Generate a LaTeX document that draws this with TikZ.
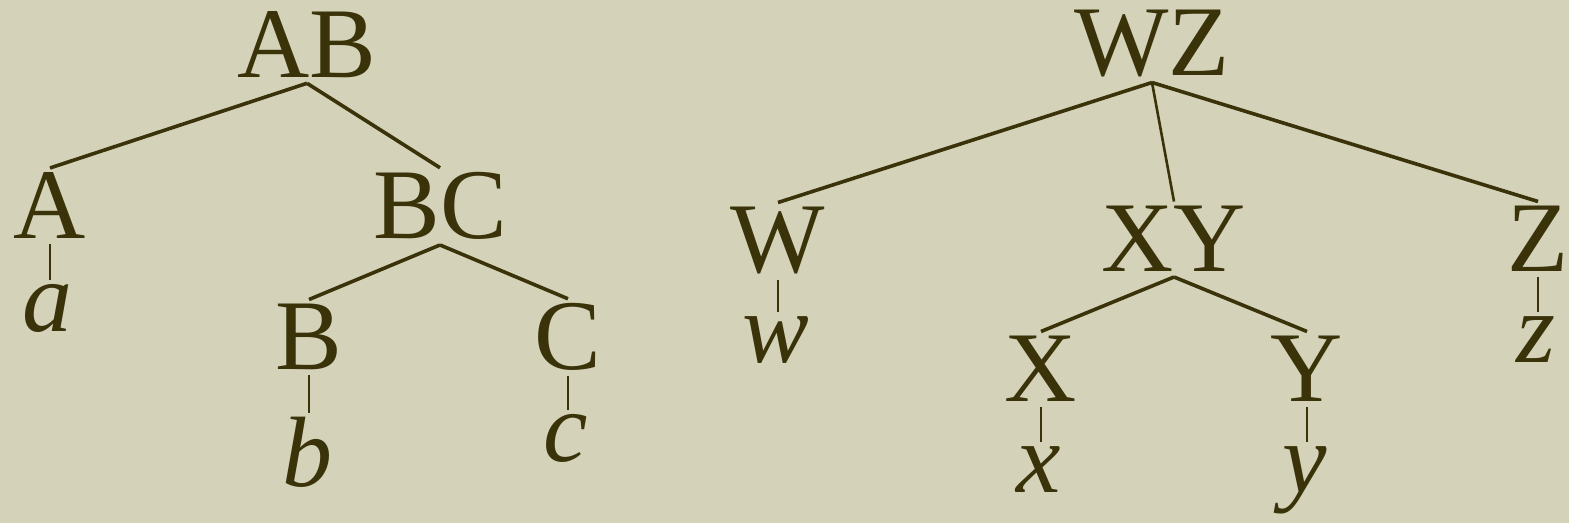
\documentclass[tikz,border=0pt]{standalone}
\usepackage{fontspec}
\setmainfont{Liberation Serif}
\definecolor{paper}{HTML}{D4D3BA}
\definecolor{ink}{HTML}{3A3208}
\begin{document}
\begin{tikzpicture}[x=0.5pt,y=-0.5pt,
  lab/.style={anchor=base,inner sep=2.5pt,outer sep=0pt,text=ink,font=\fontsize{50}{60}\selectfont},
  leaf/.style={lab,font=\fontsize{50}{60}\selectfont\itshape},
  edge/.style={draw=ink,line width=1.8pt},
  stem/.style={draw=ink,line width=1.3pt}]
\fill[paper] (0,0) rectangle (1569,523);
\useasboundingbox (0,0) rectangle (1569,523);
% left tree
\node[lab] (AB) at (307,78) {AB};
\node[lab] (A) at (50,239) {A};
\node[lab] (BC) at (440,239) {BC};
\node[leaf] (a) at (48,332) {a};
\node[lab] (B) at (309,370) {B};
\node[lab] (C) at (568,370) {C};
\node[leaf] (b) at (307,487) {b};
\node[leaf] (c) at (566,462) {c};
\draw[edge] (AB.south) -- (A.north);
\draw[edge] (AB.south) -- (BC.north);
\draw[edge] (BC.south) -- (B.north);
\draw[edge] (BC.south) -- (C.north);
\draw[stem] (A.south) -- (A.south |- a.north);
\draw[stem] (B.south) -- (B.south |- b.north);
\draw[stem] (C.south) -- (C.south |- c.north);
% right tree
\node[lab] (WZ) at (1152,76) {WZ};
\node[lab] (W) at (778,273) {W};
\node[lab] (XY) at (1174,272) {XY};
\node[lab] (Z) at (1538,272) {Z};
\node[leaf] (w) at (776,363) {w};
\node[leaf] (z) at (1536,363) {z};
\node[lab] (X) at (1041,402) {X};
\node[lab] (Y) at (1307,402) {Y};
\node[leaf] (x) at (1039,493) {x};
\node[leaf] (y) at (1305,493) {y};
\draw[edge] (WZ.south) -- (W.north);
\draw[stem] (WZ.south) -- (XY.north);
\draw[edge] (WZ.south) -- (Z.north);
\draw[edge] (XY.south) -- (X.north);
\draw[edge] (XY.south) -- (Y.north);
\draw[stem] (W.south) -- (W.south |- w.north);
\draw[stem] (Z.south) -- (Z.south |- z.north);
\draw[stem] (X.south) -- (X.south |- x.north);
\draw[stem] (Y.south) -- (Y.south |- y.north);
\end{tikzpicture}
\end{document}
